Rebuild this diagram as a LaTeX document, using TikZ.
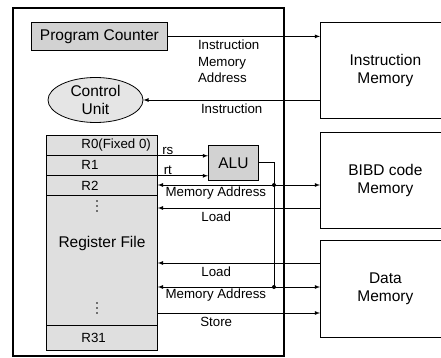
\documentclass[tikz,border=0pt]{standalone}
\usepackage{fontspec}
\setmainfont{Liberation Sans}
\usetikzlibrary{arrows,shapes.geometric}

\begin{document}
\begin{tikzpicture}[x=1pt, y=-1pt, >=latex, line width=0.8pt,
  box/.style={draw, rectangle, inner sep=0pt, anchor=north west},
  big/.style={font=\fontsize{15.5}{18}\selectfont, align=center},
  small/.style={font=\fontsize{13.3}{16.5}\selectfont}]
  \useasboundingbox (0,0) rectangle (441,358);
  \clip (0,0) rectangle (441,358);
  \draw[line width=1.1pt] (13,8) rectangle (284,356);

  \node[box, fill=gray!35, minimum width=136pt, minimum height=28pt, big] (pc) at (31,22) {Program Counter};
  \node[draw, ellipse, fill=gray!20, minimum width=95pt, minimum height=45pt, inner sep=0pt, big] (cu) at (95.5,100) {Control\\Unit};

  \node[box, fill=gray!25, minimum width=111pt, minimum height=215pt] (rf) at (46,135) {};
  \foreach \y/\n/\t in {135/r0/R0(Fixed 0),155/r1/R1,175/r2/R2}{
    \node[box, minimum width=111pt, minimum height=20pt] (\n) at (46,\y) {};
    \node[small, anchor=west, inner sep=0pt] (\n-t) at ([xshift=35pt]\n.west) {\t};
  }
  \node[box, minimum width=111pt, minimum height=25pt] (r31) at (46,325) {};
  \node[small, anchor=west, inner sep=0pt] (r31-t) at ([xshift=35pt]r31.west) {R31};
  \node[big] (rf-t) at (102,243) {Register File};
  \foreach \y in {201,206,211,303,308,313}
    \fill (97,\y) circle (0.9pt);

  \node[box, fill=gray!35, minimum width=50pt, minimum height=35pt, big] (alu) at (208,145) {ALU};

  \node[box, minimum width=130pt, minimum height=96pt, big] (imem) at (320,22) {Instruction\\Memory};
  \node[box, minimum width=130pt, minimum height=96pt, big] (bibd) at (320,132) {BIBD code\\Memory};
  \node[box, minimum width=130pt, minimum height=97pt, big] (dmem) at (320,240) {Data\\Memory};

  \coordinate (j1) at (274,185);
  \coordinate (j2) at (274,287);
  \coordinate (ld1) at (0,208);
  \coordinate (ld2) at (0,263);
  \coordinate (st) at (0,313);

  \path[->]
  (pc.east) edge node[small, below, align=left, pos=0.4] {Instruction\\Memory\\Address} (pc.east -| imem.west)
  (cu.east -| imem.west) edge node[small, below] {Instruction} (cu.east)
  (r0.south east) edge node[small, above, pos=0.2, inner sep=1pt] {rs} (r0.south east -| alu.west)
  (r1.south east) edge node[small, above, pos=0.2, inner sep=1pt] {rt} (r1.south east -| alu.west)
  (j1) edge node[small, below, inner sep=1.5pt] {Memory Address} (j1 -| rf.east)
       edge (j1 -| bibd.west)
  (bibd.west |- ld1) edge node[small, below, pos=0.64] {Load} (rf.east |- ld1)
  (dmem.west |- ld2) edge node[small, below, pos=0.64] {Load} (rf.east |- ld2)
  (j2) edge node[small, below, inner sep=1.5pt] {Memory Address} (j2 -| rf.east)
       edge (j2 -| dmem.west)
  (rf.east |- st) edge node[small, below, pos=0.36] {Store} (dmem.west |- st);
  \draw (alu.east) -| (j2);
  \fill (j1) circle (2pt) (j2) circle (2pt);
\end{tikzpicture}
\end{document}
